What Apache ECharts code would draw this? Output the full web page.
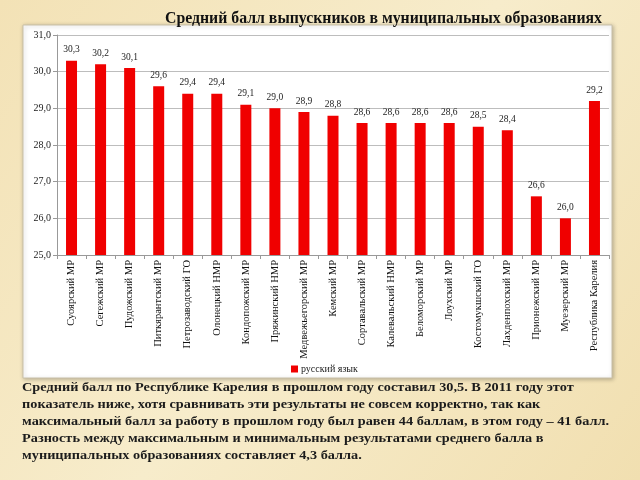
<!DOCTYPE html>
<html>
<head>
<meta charset="utf-8">
<script src="https://cdn.jsdelivr.net/npm/echarts@6/dist/echarts.min.js"></script>
<style>
  html, body { margin: 0; padding: 0; }
  #chart { width: 640px; height: 480px; }
</style>
</head>
<body>
<div id="chart"></div>
<script>
// данные по муниципальным образованиям
var categories = [
  'Суоярский МР', 'Сегежский МР', 'Пудожский МР', 'Питкярантский МР',
  'Петрозаводский ГО', 'Олонецкий НМР', 'Кондопожский МР', 'Пряжинский НМР',
  'Медвежьегорский МР', 'Кемский МР', 'Сортавальский МР', 'Калевальский НМР',
  'Беломорский МР', 'Лоухский МР', 'Костомукшский ГО', 'Лахденпохский МР',
  'Прионежский МР', 'Муезерский МР', 'Республика Карелия'
];
var russianScores = [30.3, 30.2, 30.1, 29.6, 29.4, 29.4, 29.1, 29.0, 28.9, 28.8,
  28.6, 28.6, 28.6, 28.6, 28.5, 28.4, 26.6, 26.0, 29.2];
var seriesName = 'русский язык';
var yTicks = [25, 26, 27, 28, 29, 30, 31];

var titleText = 'Средний балл выпускников в муниципальных образованиях';
var noteLines = [
  'Средний балл по Республике Карелия в прошлом году составил 30,5. В 2011 году этот',
  'показатель ниже, хотя сравнивать эти результаты не совсем корректно, так как',
  'максимальный балл за работу в прошлом году был равен 44 баллам, в этом году – 41 балл.',
  'Разность между максимальным и минимальным результатами среднего балла в',
  'муниципальных образованиях составляет 4,3 балла.'
];

var serif = '"Liberation Serif", "DejaVu Serif", serif';
var fmt = function (v) { return Number(v).toFixed(1).replace('.', ','); };

var chart = echarts.init(document.getElementById('chart'));
chart.setOption({
  backgroundColor: {
    type: 'linear', x: 0, y: 0, x2: 1, y2: 1,
    colorStops: [
      { offset: 0, color: '#f3e2b6' },
      { offset: 0.5, color: '#f7eccb' },
      { offset: 1, color: '#f1dfb0' }
    ]
  },
  animation: false,
  title: {
    text: titleText,
    left: 160, top: 6,
    textStyle: { fontFamily: serif, fontSize: 15.8, fontWeight: 'bold', color: '#111' }
  },
  graphic: [
    {
      type: 'rect', z: -10,
      shape: { x: 23, y: 25, width: 589, height: 353 },
      style: { fill: '#fff', stroke: '#c9c0a8', lineWidth: 1,
        shadowBlur: 4, shadowColor: 'rgba(0,0,0,0.25)', shadowOffsetX: 1, shadowOffsetY: 1 }
    },
    {
      type: 'text', x: 22, y: 379, scaleX: 1.1,
      style: {
        text: noteLines.join('\n'),
        font: 'bold 13px ' + serif,
        lineHeight: 17,
        fill: '#1c1c1c'
      }
    }
  ],
  legend: {
    data: [seriesName],
    left: 286, top: 359,
    icon: 'rect', itemWidth: 7, itemHeight: 7, itemGap: 4,
    textStyle: { fontFamily: serif, fontSize: 10, color: '#222', padding: [0, 0, 0, -2] }
  },
  grid: { left: 57, right: 31, top: 35, bottom: 225 },
  xAxis: {
    type: 'category',
    data: categories,
    axisLine: { lineStyle: { color: '#999' } },
    axisTick: { show: true, length: 4, lineStyle: { color: '#999' } },
    axisLabel: {
      interval: 0, rotate: 90, margin: 5,
      fontFamily: serif, fontSize: 10.5, color: '#111'
    }
  },
  yAxis: {
    type: 'value',
    min: yTicks[0], max: yTicks[yTicks.length - 1], interval: 1,
    axisLine: { show: true, lineStyle: { color: '#999' } },
    axisTick: { show: true, length: 4, lineStyle: { color: '#999' } },
    splitLine: { lineStyle: { color: '#bdbdbd' } },
    axisLabel: {
      margin: 6, formatter: fmt,
      fontFamily: serif, fontSize: 10, color: '#222'
    }
  },
  series: [{
    name: seriesName,
    type: 'bar',
    data: russianScores,
    barWidth: 11,
    itemStyle: { color: '#f00000' },
    label: {
      show: true, position: 'top', distance: 6,
      formatter: function (p) { return fmt(p.value); },
      fontFamily: serif, fontSize: 9.5, color: '#222'
    }
  }]
});
</script>
</body>
</html>
